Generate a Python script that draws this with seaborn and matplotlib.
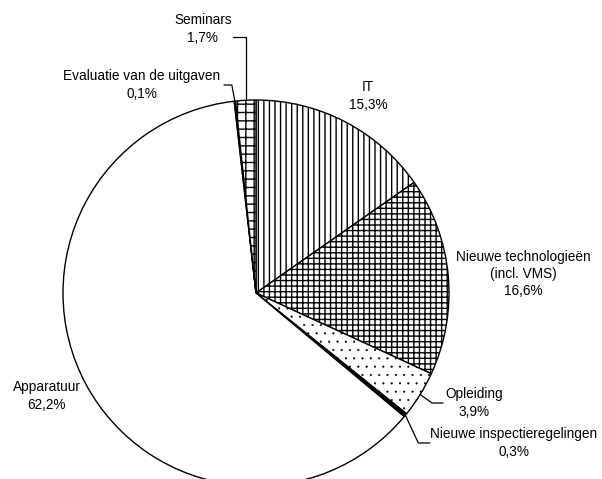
"""
Pie chart: verdeling van de uitgaven per categorie
"""

import matplotlib
matplotlib.use('Agg')
import matplotlib.pyplot as plt
import seaborn as sns
import numpy as np

sns.set_theme(style='white')
plt.rcParams['font.family'] = ['Liberation Sans', 'DejaVu Sans']
plt.rcParams['hatch.linewidth'] = 1.0

# data (clockwise from the top)
categories = ['IT', 'Nieuwe technologieën\n(incl. VMS)', 'Opleiding',
              'Nieuwe inspectieregelingen', 'Apparatuur',
              'Evaluatie van de uitgaven', 'Seminars']
shares = [15.3, 16.6, 3.9, 0.3, 62.2, 0.1, 1.7]
pct_labels = ['15,3%', '16,6%', '3,9%', '0,3%', '62,2%', '0,1%', '1,7%']

hatches = ['|||', '+++', '..', None, None, None, '++']
fills = ['white', 'white', 'white', 'black', 'white', 'white', 'white']

# label placement (pixels, top-left origin) and leader style
label_pos = [(368, 96), (523, 274), (474, 403), (514, 443), (47, 396), (142, 85), (203, 29)]
leader = [None, None, 'right', 'right', None, 'left', 'left']

W, H = 602, 479
CX, CY, R = 256, 293, 193

fig = plt.figure(figsize=(W / 100, H / 100), dpi=100)
ax = fig.add_axes([0, 0, 1, 1])

wedges, _ = ax.pie(shares, startangle=90, counterclock=False,
                   center=(CX, H - CY), radius=R, colors=fills,
                   wedgeprops=dict(edgecolor='black', linewidth=1.0))
for w, h in zip(wedges, hatches):
    if h:
        w.set_hatch(h)
        if h == '..' and hasattr(w, 'set_hatch_linewidth'):
            w.set_hatch_linewidth(0.3)

ax.set_xlim(0, W)
ax.set_ylim(0, H)
ax.set_aspect('equal')
ax.axis('off')

for w, cat, pct, (lx, ly), ld in zip(wedges, categories, pct_labels, label_pos, leader):
    ly_d = H - ly
    ax.text(lx, ly_d, f'{cat}\n{pct}', ha='center', va='center',
            fontsize=9.8, linespacing=1.3, color='black')
    if ld is None:
        continue
    # anchor on the outer edge at the middle of the wedge
    ang = np.deg2rad((w.theta1 + w.theta2) / 2)
    px = CX + R * np.cos(ang)
    py = H - CY + R * np.sin(ang)
    if ld == 'right':
        # diagonal from the edge, then horizontal to the text
        if cat == 'Opleiding':
            ex, ey, tx = px + 12, ly_d, lx - 31
        else:
            ex, ey, tx = px + 13, ly_d, lx - 84
        ax.plot([px, ex, tx], [py, ey, ey], color='black', lw=0.9)
    else:
        # up from the edge, then horizontal to the text
        if cat == 'Seminars':
            ex, ey, tx = px, H - 37, lx + 30
        else:
            ex, ey, tx = px - 3, H - 85, lx + 82
        ax.plot([px, ex, tx], [py, ey, ey], color='black', lw=0.9)

fig.savefig('out.png', dpi=100)
